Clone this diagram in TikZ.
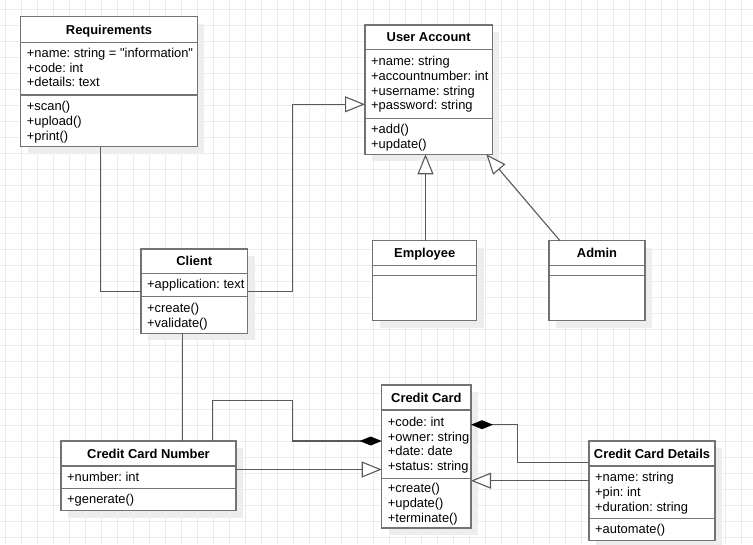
\documentclass[tikz,border=0pt]{standalone}
\usepackage{fontspec}
\setmainfont{Liberation Sans}
\usetikzlibrary{arrows.meta}
\frenchspacing

\definecolor{gridc}{HTML}{EBEBEB}
\definecolor{boxc}{HTML}{737373}
\definecolor{edgec}{HTML}{5A5A5A}
\definecolor{shadowc}{HTML}{EDEDED}

\newcommand\memberfont{\fontsize{12.9}{14.8}\selectfont}

% class box: name, left, top, right, bottom, separator 1, separator 2, title
\newcommand\umlclass[8]{%
  \pgfmathsetmacro\boxw{#4-#2}\pgfmathsetmacro\boxh{#5-#3}%
  \fill[shadowc] (#2+7,#3+7) rectangle (#4+7,#5+7);
  \node[classbox, minimum width=\boxw pt, minimum height=\boxh pt, anchor=north west] (#1) at (#2,#3) {};
  \draw[sepline] (#2,#6) -- (#4,#6) (#2,#7) -- (#4,#7);
  \node[titletext] (#1-t) at ({(#2+#4)/2},{(#3+#6)/2}) {#8};
}

% member lines: name prefix, x, centre of first line, list of lines
\newcommand\members[4]{%
  \foreach \txt [count=\i from 0] in {#4} {
    \node[membertext] (#1\i) at (#2, #3+14.8*\i) {\txt};
  }
}

\begin{document}
\begin{tikzpicture}[x=1pt, y=-1pt,
  gridline/.style={gridc, line width=0.9pt},
  classbox/.style={draw=boxc, fill=white, line width=1.5pt, inner sep=0pt, outer sep=0pt},
  sepline/.style={boxc, line width=1.5pt},
  titletext/.style={font=\memberfont\bfseries, inner sep=0pt, text height=9pt, text depth=0pt, anchor=center},
  membertext/.style={font=\memberfont, inner sep=0pt, text height=9pt, text depth=0pt, anchor=west},
  edge/.style={edgec, line width=1.1pt, line join=miter},
  gen/.style={edge, -{Triangle[length=20pt, width=16pt, fill=white, line join=miter]}},
  comp/.style={edge, -{Diamond[length=22pt, width=9pt, color=black, fill=black]}}
]
  % page and grid
  \fill[white] (0,0) rectangle (753,544);
  \useasboundingbox (0,0) rectangle (753,544);
  \foreach \k in {0,...,46} \draw[gridline] (5.3+16*\k,0) -- (5.3+16*\k,544);
  \foreach \k in {0,...,33} \draw[gridline] (0,9.3+16*\k) -- (753,9.3+16*\k);

  % classes
  \umlclass{req}{20.7}{16.7}{197.3}{146.7}{42.3}{95}{Requirements}
  \members{req-a}{26.7}{52.7}{+name: string = \textquotedbl information\textquotedbl,+code: int,+details: text}
  \members{req-m}{26.7}{106}{+scan(),+upload(),+print()}

  \umlclass{ua}{365}{25}{492.3}{154.3}{49.3}{118.3}{User Account}
  \members{ua-a}{371}{61}{+name: string,+accountnumber: int,+username: string,+password: string}
  \members{ua-m}{371}{129}{+add(),+update()}

  \umlclass{client}{141}{249}{247.7}{333.3}{273.7}{296.7}{Client}
  \members{client-a}{147}{284.3}{+application: text}
  \members{client-m}{147}{308}{+create(),+validate()}

  \umlclass{emp}{372.7}{240.7}{476.7}{320.7}{265.7}{275.7}{Employee}
  \umlclass{adm}{549}{240.7}{645}{320.7}{265.7}{275.7}{Admin}

  \umlclass{ccn}{61}{441}{236}{510.7}{466}{488.3}{Credit Card Number}
  \members{ccn-a}{67}{476.7}{+number: int}
  \members{ccn-m}{67}{499}{+generate()}

  \umlclass{cc}{381.7}{385}{471}{528}{410}{478.3}{Credit Card}
  \members{cc-a}{387.7}{421.7}{+code: int,+owner: string,+date: date,+status: string}
  \members{cc-m}{387.7}{488.3}{+create(),+update(),+terminate()}

  \umlclass{ccd}{589}{441}{715}{540.7}{466}{518.3}{Credit Card Details}
  \members{ccd-a}{595}{477.3}{+name: string,+pin: int,+duration: string}
  \members{ccd-m}{595}{529.3}{+automate()}

  % connectors
  \draw[edge] ([xshift=79.8pt]req.south west) |- (client.west);
  \draw[gen] (client.east) -- ([xshift=44.8pt]client.east) |- ([yshift=-79.3pt]ua.north west);
  \draw[gen] ([xshift=52.8pt]emp.north west) -- ([xshift=52.8pt]emp.north west |- ua.south);
  \draw[gen] ([xshift=11pt]adm.north west) -- ([xshift=-6pt]ua.south east);
  \draw[edge] ([xshift=41.5pt]client.south west) -- ([xshift=41.5pt]client.south west |- ccn.north);
  \draw[comp] ([xshift=151.5pt]ccn.north west) -- ++(0,-40.5) -- ++(80,0) |- ([yshift=-56pt]cc.north west);
  \draw[gen] ([yshift=-28.5pt]ccn.north east) -- ([yshift=-84.5pt]cc.north west);
  \draw[comp] ([yshift=-21.3pt]ccd.north west) -- ++(-71.7,0) |- ([yshift=-39.7pt]cc.north east);
  \draw[gen] ([yshift=-39.7pt]ccd.north west) -- ([yshift=-95.7pt]cc.north east);
\end{tikzpicture}
\end{document}
